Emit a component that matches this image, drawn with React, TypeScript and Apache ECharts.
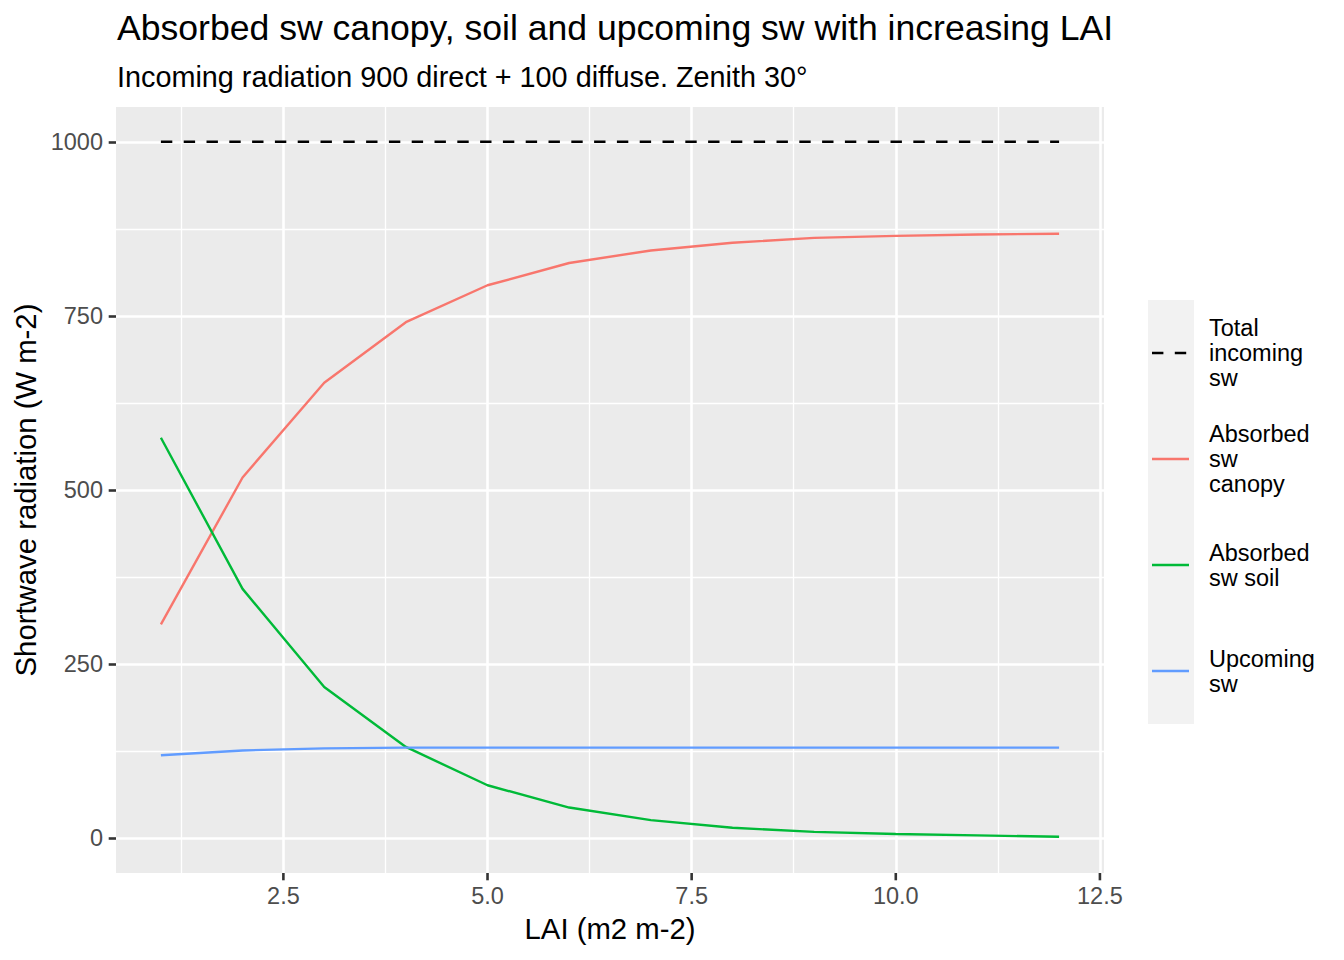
import React, { useEffect, useRef } from "react";
import * as echarts from "echarts";

const FONT = "'Liberation Sans', Arial, Helvetica, sans-serif";

const lai = [1, 2, 3, 4, 5, 6, 7, 8, 9, 10, 11, 12];
const totalIncoming = [1000, 1000, 1000, 1000, 1000, 1000, 1000, 1000, 1000, 1000, 1000, 1000];
const absorbedCanopy = [307, 518, 654, 741, 794, 826, 844, 855, 862, 865, 867, 868];
const absorbedSoil = [575, 358, 217, 131, 76, 44, 26, 15, 9, 6, 4, 2];
const upcoming = [119, 126, 129, 130, 130, 130, 130, 130, 130, 130, 130, 130];

const xMajorTicks = [2.5, 5, 7.5, 10, 12.5];
const xMinorTicks = [1.25, 3.75, 6.25, 8.75, 11.25];
const yMajorTicks = [0, 250, 500, 750, 1000];
const yMinorTicks = [125, 375, 625, 875];

const seriesNames = ["Total incoming sw", "Absorbed sw canopy", "Absorbed sw soil", "Upcoming sw"];
const legendLabels = ["Total\nincoming\nsw", "Absorbed\nsw\ncanopy", "Absorbed\nsw soil", "Upcoming\nsw"];
const seriesColors = ["#000000", "#F8766D", "#00BA38", "#619CFF"];
const seriesValues = [totalIncoming, absorbedCanopy, absorbedSoil, upcoming];

export default function App() {
  const ref = useRef<HTMLDivElement>(null);
  useEffect(() => {
    if (!ref.current) return;
    const chart = echarts.init(ref.current, null, { renderer: "svg" });
    const TICK_COLOR = "#333333";
    const TICK_W = 2.6;
    const TICK_LEN = 7.3;
    const tickStyle = { color: TICK_COLOR, width: TICK_W };
    const LINE_W = 2.4;
    const DASH = [11.4, 11.4];
    const Y_MIN = -50;
    const Y_MAX = 1050;

    const legendTop = 300;
    const keyH = 106;
    const legendGraphics: any[] = [
      {
        type: "rect",
        z: 0,
        silent: true,
        shape: { x: 1148, y: legendTop, width: 46, height: keyH * seriesNames.length },
        style: { fill: "#F2F2F2" },
      },
    ];
    seriesNames.forEach((_, i) => {
      const cy = legendTop + keyH / 2 + keyH * i;
      legendGraphics.push({
        type: "line",
        z: 1,
        silent: true,
        shape: { x1: 1152, y1: cy, x2: 1189, y2: cy },
        style: {
          stroke: seriesColors[i],
          lineWidth: LINE_W,
          lineDash: i === 0 ? DASH : null,
        },
      });
      legendGraphics.push({
        type: "text",
        z: 1,
        silent: true,
        x: 1209,
        y: cy,
        style: {
          text: legendLabels[i],
          fontSize: 23.5,
          lineHeight: 25,
          fontFamily: FONT,
          fill: "#000000",
          textAlign: "left",
          textVerticalAlign: "middle",
          verticalAlign: "middle",
        },
      });
    });

    const lineSeries = seriesNames.map((name, i) => ({
      name,
      type: "line",
      xAxisIndex: 0,
      yAxisIndex: 0,
      symbol: "none",
      showSymbol: false,
      z: 3,
      color: seriesColors[i],
      lineStyle: {
        color: seriesColors[i],
        width: LINE_W,
        type: i === 0 ? DASH : "solid",
      },
      data: lai.map((x, j) => [x, seriesValues[i][j]]),
    }));

    const option: any = {
      animation: false,
      backgroundColor: "#FFFFFF",
      textStyle: { fontFamily: FONT },
      title: {
        text: "Absorbed sw canopy, soil and upcoming sw with increasing LAI",
        subtext: "Incoming radiation 900 direct + 100 diffuse. Zenith 30°",
        left: 117,
        top: 10.2,
        padding: 0,
        itemGap: 16,
        textStyle: { fontSize: 35.6, fontWeight: "normal", color: "#000000", fontFamily: FONT },
        subtextStyle: { fontSize: 28.8, color: "#000000", fontFamily: FONT },
      },
      grid: {
        left: 116,
        top: 107,
        right: 240,
        bottom: 87,
        show: true,
        backgroundColor: "#EBEBEB",
        borderWidth: 0,
        containLabel: false,
        outerBoundsMode: "none",
      },
      graphic: legendGraphics,
      xAxis: [
        {
          type: "value",
          min: 0.45,
          max: 12.55,
          position: "bottom",
          name: "LAI (m2 m-2)",
          nameLocation: "middle",
          nameGap: 41,
          nameTextStyle: { fontSize: 29.3, color: "#000000", fontFamily: FONT },
          axisLine: { show: false, onZero: false },
          axisTick: { show: false, customValues: xMajorTicks },
          axisLabel: {
            customValues: xMajorTicks,
            formatter: (v: number) => v.toFixed(1),
            fontSize: 23.5,
            color: "#4D4D4D",
            margin: 11,
            fontFamily: FONT,
          },
          splitLine: { show: true, lineStyle: { color: "#FFFFFF", width: 2.6 } },
        },
        {
          type: "value",
          min: 0.45,
          max: 12.55,
          position: "top",
          axisLine: { show: false, onZero: false },
          axisTick: { show: false, customValues: xMinorTicks },
          axisLabel: { show: false, customValues: xMinorTicks },
          splitLine: { show: true, lineStyle: { color: "#FFFFFF", width: 1.3 } },
        },
      ],
      yAxis: [
        {
          type: "value",
          min: Y_MIN,
          max: Y_MAX,
          position: "left",
          name: "Shortwave radiation (W m-2)",
          nameLocation: "middle",
          nameGap: 73,
          nameTextStyle: { fontSize: 29.3, color: "#000000", fontFamily: FONT },
          axisLine: { show: false, onZero: false },
          axisTick: { show: true, inside: false, customValues: yMajorTicks, length: TICK_LEN, lineStyle: tickStyle },
          axisLabel: {
            customValues: yMajorTicks,
            formatter: (v: number) => String(v),
            fontSize: 23.5,
            color: "#4D4D4D",
            margin: 13,
            fontFamily: FONT,
          },
          splitLine: { show: true, lineStyle: { color: "#FFFFFF", width: 2.6 } },
        },
        {
          type: "value",
          min: Y_MIN,
          max: Y_MAX,
          position: "right",
          axisLine: { show: false, onZero: false },
          axisTick: { show: false, customValues: yMinorTicks },
          axisLabel: { show: false, customValues: yMinorTicks },
          splitLine: { show: true, lineStyle: { color: "#FFFFFF", width: 1.3 } },
        },
      ],
      series: lineSeries,
    };
    chart.setOption(option);

    // x-axis tick marks placed through the axis scale (pixel positions from the chart's own conversion)
    const yBottom = chart.convertToPixel({ yAxisIndex: 0 }, Y_MIN) as number;
    const tickGraphics = xMajorTicks.map((v) => {
      const px = chart.convertToPixel({ xAxisIndex: 0 }, v) as number;
      return {
        type: "line",
        z: 100,
        silent: true,
        shape: { x1: px, y1: yBottom, x2: px, y2: yBottom + TICK_LEN },
        style: { stroke: TICK_COLOR, lineWidth: TICK_W },
      };
    });
    chart.setOption({ graphic: [...legendGraphics, ...tickGraphics] });

    return () => chart.dispose();
  }, []);
  return (
    <div
      ref={ref}
      style={{ position: "absolute", left: 0, top: 0, width: 1344, height: 960 }}
    />
  );
}
